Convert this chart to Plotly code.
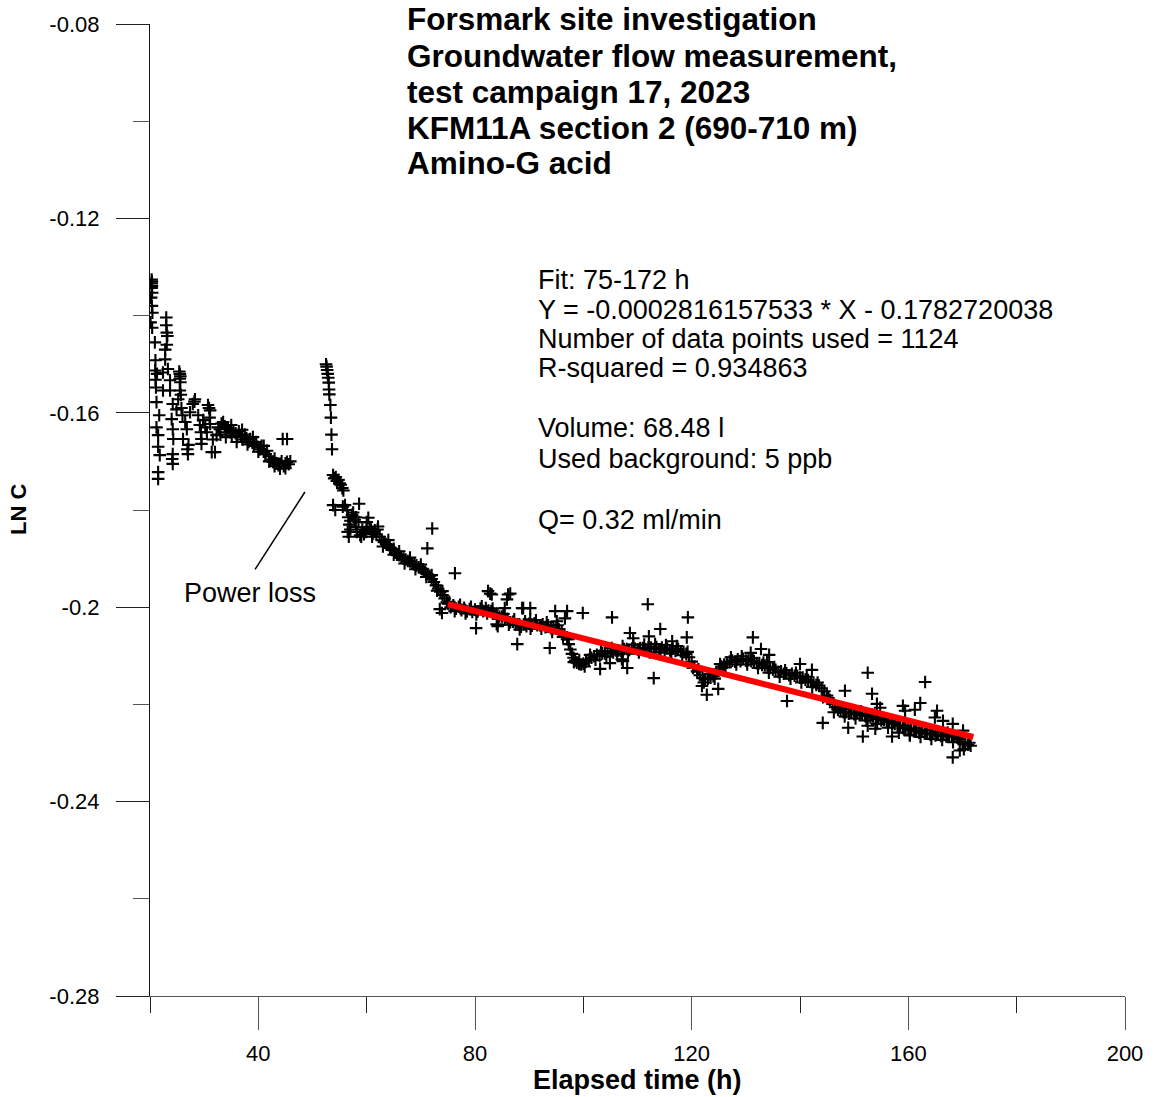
import plotly.graph_objects as go

# ---------------- data ----------------
# early phase, before the power loss (elapsed time h, LN C)
early_t = [20.3, 20.35, 20.3, 20.35, 20.3, 20.4, 20.2, 20.35, 20.45, 20.1, 20.4,
           20.9, 21.0, 20.95, 21.1, 21.0, 21.3, 21.2, 21.7, 21.2, 21.5, 21.5, 21.8, 21.5, 21.5,
           23.0, 23.1, 23.1, 22.8, 22.8, 23.3, 22.4, 23.7, 22.4, 23.7, 24.2, 24.9, 24.0, 24.2,
           24.3, 24.2, 24.2, 24.1, 23.2, 23.0,
           25.4, 25.5, 25.6, 25.5, 25.6, 25.5, 25.2, 25.8, 26.5, 26.8, 27.4, 26.1, 27.1, 27.0,
           26.9, 26.0, 25.7,
           27.9, 28.3, 28.2, 28.9, 29.2, 29.5, 29.5, 29.4, 30.5, 30.7, 30.9, 31.1, 31.1, 31.0,
           31.4, 30.2, 29.8, 31.6, 32.0,
           32.3, 32.6, 32.9, 33.2, 33.5, 33.8, 34.1, 34.4, 34.8, 35.1, 35.4, 35.8, 36.1, 36.4,
           36.8, 37.1, 37.5, 37.8, 38.2, 38.5, 38.9, 39.2, 39.6, 39.9, 40.3, 40.6, 41.0, 41.3,
           41.6, 42.0, 42.3, 42.7, 43.0, 43.4, 43.7, 44.0, 44.3, 44.7, 45.0, 45.3, 45.6, 45.9,
           33.0, 34.0, 35.0, 36.0, 37.0, 38.0, 39.0, 40.0, 41.0, 42.0, 43.0, 44.0, 45.0,
           44.5, 45.3]
early_lnc = [-0.1326, -0.1330, -0.1334, -0.1339, -0.1343, -0.1353, -0.1363, -0.1380, -0.1394, -0.1414, -0.1425,
             -0.1455, -0.1492, -0.1513, -0.1548, -0.1532, -0.1520, -0.1578, -0.1605, -0.1630, -0.1646, -0.1670,
             -0.1687, -0.1722, -0.1736,
             -0.1404, -0.1435, -0.1460, -0.1470, -0.1490, -0.1510, -0.1517, -0.1533, -0.1554, -0.1554, -0.1582,
             -0.1593, -0.1613, -0.1634, -0.1654, -0.1685, -0.1705, -0.1695, -0.1442, -0.1420,
             -0.1515, -0.1520, -0.1525, -0.1530, -0.1537, -0.1554, -0.1572, -0.1590, -0.1619, -0.1634, -0.1599,
             -0.1654, -0.1666, -0.1685, -0.1675, -0.1605, -0.1563,
             -0.1582, -0.1572, -0.1577, -0.1605, -0.1625, -0.1654, -0.1664, -0.1640, -0.1640, -0.1584, -0.1590,
             -0.1595, -0.1623, -0.1610, -0.1681, -0.1630, -0.1615, -0.1655, -0.1681,
             -0.1646, -0.1630, -0.1634, -0.1622, -0.1619, -0.1628, -0.1640, -0.1632, -0.1640, -0.1648, -0.1636,
             -0.1642, -0.1650, -0.1638, -0.1646, -0.1655, -0.1645, -0.1652, -0.1660, -0.1654, -0.1662, -0.1668,
             -0.1660, -0.1670, -0.1675, -0.1668, -0.1680, -0.1685, -0.1678, -0.1690, -0.1696, -0.1701, -0.1694,
             -0.1704, -0.1708, -0.1707, -0.1700, -0.1710, -0.1704, -0.1701, -0.1706, -0.1700,
             -0.1645, -0.1650, -0.1625, -0.1660, -0.1635, -0.1665, -0.1650, -0.1680, -0.1668, -0.1700, -0.1710,
             -0.1715, -0.1714,
             -0.1654, -0.1654]

# recovery after the power loss
recov_t = [52.5, 52.6, 52.7, 52.8, 52.9, 53.0, 53.05, 53.1, 53.3, 53.4, 53.5, 53.6,
           53.8, 54.0, 54.3, 54.5, 54.8, 55.0, 55.2, 55.5, 55.7, 53.8, 55.6, 54.2,
           56.4, 56.6, 56.8, 57.0, 57.3, 57.5, 57.8, 58.0, 58.2, 58.5, 58.8, 56.5, 56.7,
           58.6, 60.3, 59.2, 59.5, 59.8, 60.0, 60.5, 60.8, 61.2, 61.5, 61.8, 62.1, 62.4,
           62.8, 63.2, 63.6, 64.0, 64.3, 64.7, 65.0, 65.3, 65.6, 66.0, 66.4, 66.8, 67.2,
           67.6, 68.0, 68.4, 68.8, 69.2, 69.6, 70.0, 70.4, 70.8, 71.2, 71.6, 72.0, 72.4,
           72.8, 73.2, 73.6, 74.0, 74.4, 74.8]
recov_lnc = [-0.1500, -0.1505, -0.1512, -0.1520, -0.1528, -0.1538, -0.1552, -0.1562, -0.1584, -0.1610,
             -0.1645, -0.1675,
             -0.1728, -0.1735, -0.1732, -0.1740, -0.1738, -0.1745, -0.1748, -0.1755, -0.1760, -0.1790,
             -0.1793, -0.1800,
             -0.1800, -0.1815, -0.1830, -0.1822, -0.1810, -0.1805, -0.1820, -0.1835, -0.1845, -0.1825,
             -0.1852, -0.1845, -0.1855,
             -0.1787, -0.1816, -0.1840, -0.1850, -0.1845, -0.1838, -0.1835, -0.1840, -0.1848, -0.1842,
             -0.1850, -0.1834, -0.1855,
             -0.1862, -0.1866, -0.1870, -0.1872, -0.1878, -0.1882, -0.1880, -0.1888, -0.1892, -0.1893,
             -0.1897, -0.1900, -0.1902, -0.1905, -0.1906, -0.1910, -0.1912, -0.1914, -0.1918, -0.1920,
             -0.1922, -0.1927, -0.1932, -0.1936, -0.1942, -0.1948, -0.1955, -0.1962, -0.1968, -0.1975,
             -0.1982, -0.1990]

# main trend during the fit window
main_t = [75.0, 75.5, 76.0, 76.5, 77.0, 77.5, 78.0, 78.5, 79.0, 79.5, 80.0, 80.5, 81.0, 81.5,
          82.0, 82.5, 83.0, 83.5, 84.0, 84.5, 85.0, 85.5, 86.0, 86.5, 87.0, 87.5, 88.0, 88.5,
          89.0, 89.5, 90.0, 90.5, 91.0, 91.5, 92.0, 92.5, 93.0, 93.5, 94.0, 94.5, 95.0, 95.5,
          96.0, 96.5, 97.0, 97.3, 97.6, 97.9, 98.2, 98.5, 98.8, 99.2, 99.6, 100.0, 100.5, 101.0,
          101.5, 102.0, 102.5, 103.0, 103.5, 104.0, 104.5, 105.0, 105.5, 106.0, 106.5, 107.0,
          107.5, 108.0, 108.5, 109.0, 109.5, 110.0, 110.5, 111.0, 111.5, 112.0, 112.5, 113.0,
          113.5, 114.0, 114.5, 115.0, 115.5, 116.0, 116.5, 117.0, 117.5, 118.0, 118.5, 119.0,
          119.5, 120.0, 120.5, 121.0, 121.5, 122.0, 122.5, 123.0, 123.5, 124.0, 124.5, 125.0,
          125.5, 126.0, 126.5, 127.0, 127.5, 128.0, 128.5, 129.0, 129.5, 130.0, 130.5, 131.0,
          131.5, 132.0, 132.5, 133.0, 133.5, 134.0, 134.5, 135.0, 135.5, 136.0, 136.5, 137.0,
          137.5, 138.0, 138.5, 139.0, 139.5, 140.0, 140.5, 141.0, 141.5, 142.0, 142.5, 143.0,
          143.5, 144.0, 144.5, 145.0, 145.5, 146.0, 146.5, 147.0, 147.5, 148.0, 148.5, 149.0,
          149.5, 150.0, 150.5, 151.0, 151.5, 152.0, 152.5, 153.0, 153.5, 154.0, 154.5, 155.0,
          155.5, 156.0, 156.5, 157.0, 157.5, 158.0, 158.5, 159.0, 159.5, 160.0, 160.5, 161.0,
          161.5, 162.0, 162.5, 163.0, 163.5, 164.0, 164.5, 165.0, 165.5, 166.0, 166.5, 167.0,
          167.5, 168.0, 168.5, 169.0, 169.5, 170.0, 170.5, 171.0, 171.5]
main_lnc = [-0.1993, -0.2000, -0.1996, -0.2003, -0.1999, -0.2006, -0.2001, -0.2009, -0.2004, -0.2010,
            -0.2005, -0.2009, -0.2003, -0.2008, -0.2002, -0.2007, -0.2008, -0.2013, -0.2013, -0.2019,
            -0.2019, -0.2025, -0.2024, -0.2031, -0.2030, -0.2036, -0.2036, -0.2040, -0.2035, -0.2039,
            -0.2034, -0.2038, -0.2033, -0.2037, -0.2037, -0.2035, -0.2041, -0.2037, -0.2043, -0.2043,
            -0.2044, -0.2046, -0.2051, -0.2056, -0.2066, -0.2076, -0.2087, -0.2096, -0.2104, -0.2110,
            -0.2114, -0.2117, -0.2118, -0.2116, -0.2112, -0.2108, -0.2104, -0.2101, -0.2098, -0.2100,
            -0.2095, -0.2095, -0.2092, -0.2092, -0.2093, -0.2089, -0.2089, -0.2090, -0.2086, -0.2086,
            -0.2088, -0.2085, -0.2085, -0.2087, -0.2084, -0.2084, -0.2087, -0.2083, -0.2083, -0.2086,
            -0.2082, -0.2087, -0.2083, -0.2088, -0.2085, -0.2089, -0.2085, -0.2090, -0.2086, -0.2091,
            -0.2092, -0.2096, -0.2103, -0.2112, -0.2122, -0.2132, -0.2140, -0.2146, -0.2148, -0.2147,
            -0.2145, -0.2142, -0.2136, -0.2128, -0.2122, -0.2118, -0.2114, -0.2112, -0.2110, -0.2112,
            -0.2107, -0.2111, -0.2106, -0.2110, -0.2109, -0.2111, -0.2111, -0.2115, -0.2115, -0.2119,
            -0.2120, -0.2124, -0.2125, -0.2128, -0.2129, -0.2133, -0.2132, -0.2137, -0.2136, -0.2140,
            -0.2137, -0.2141, -0.2141, -0.2145, -0.2145, -0.2149, -0.2150, -0.2154, -0.2155, -0.2160,
            -0.2161, -0.2167, -0.2173, -0.2182, -0.2191, -0.2199, -0.2206, -0.2211, -0.2214, -0.2216,
            -0.2216, -0.2219, -0.2216, -0.2220, -0.2218, -0.2222, -0.2220, -0.2224, -0.2223, -0.2227,
            -0.2225, -0.2230, -0.2228, -0.2233, -0.2232, -0.2236, -0.2235, -0.2240, -0.2240, -0.2244,
            -0.2244, -0.2249, -0.2248, -0.2252, -0.2252, -0.2255, -0.2254, -0.2258, -0.2256, -0.2260,
            -0.2259, -0.2262, -0.2261, -0.2264, -0.2262, -0.2265, -0.2263, -0.2266, -0.2264, -0.2266,
            -0.2265, -0.2268, -0.2272, -0.2277, -0.2281, -0.2283, -0.2285, -0.2286, -0.2288]

# readings at the upper / lower edge of the dense band
edge_t = [56.0, 57.0, 58.0, 59.0, 60.0, 61.0, 62.0, 63.0, 64.0, 65.0, 66.0, 67.0, 68.0, 69.0,
          70.0, 71.0, 72.0, 73.0, 74.0,
          75.25, 76.25, 77.25, 78.25, 79.25, 80.25, 81.25, 82.25, 83.25, 84.25, 85.25, 86.25,
          87.25, 88.25, 89.25, 90.25, 91.25, 92.25, 93.25, 94.25, 95.25, 96.25, 97.25, 98.25,
          99.25, 100.25, 101.25, 102.25, 103.25, 104.25, 105.25, 106.25, 107.25, 108.25, 109.25,
          110.25, 111.25, 112.25, 113.25, 114.25, 115.25, 116.25, 117.25, 118.25, 119.25, 120.25,
          121.25, 122.25, 123.25, 124.25, 125.25, 126.25, 127.25, 128.25, 129.25, 130.25, 131.25,
          132.25, 133.25, 134.25, 135.25, 136.25, 137.25, 138.25, 139.25, 140.25, 141.25, 142.25,
          143.25, 144.25, 145.25, 146.25, 147.25, 148.25, 149.25, 150.25, 151.25, 152.25, 153.25,
          154.25, 155.25, 156.25, 157.25, 158.25, 159.25, 160.25, 161.25, 162.25, 163.25, 164.25,
          165.25, 166.25, 167.25, 168.25, 169.25, 170.25, 171.25]
edge_lnc = [-0.1790, -0.1840, -0.1815, -0.1855, -0.1825, -0.1855, -0.1840, -0.1875, -0.1862, -0.1892,
            -0.1885, -0.1910, -0.1898, -0.1922, -0.1912, -0.1938, -0.1934, -0.1966, -0.1967,
            -0.1989, -0.2008, -0.1995, -0.2013, -0.1999, -0.2015, -0.1998, -0.2013, -0.2003, -0.2024,
            -0.2014, -0.2036, -0.2025, -0.2046, -0.2029, -0.2044, -0.2027, -0.2044, -0.2031, -0.2051,
            -0.2037, -0.2061, -0.2066, -0.2113, -0.2109, -0.2122, -0.2098, -0.2108, -0.2090, -0.2101,
            -0.2084, -0.2097, -0.2080, -0.2095, -0.2077, -0.2093, -0.2077, -0.2093, -0.2076, -0.2093,
            -0.2078, -0.2095, -0.2080, -0.2099, -0.2092, -0.2125, -0.2128, -0.2155, -0.2138, -0.2147,
            -0.2117, -0.2124, -0.2103, -0.2118, -0.2101, -0.2118, -0.2105, -0.2125, -0.2114, -0.2135,
            -0.2123, -0.2143, -0.2130, -0.2147, -0.2135, -0.2155, -0.2143, -0.2164, -0.2155, -0.2185,
            -0.2187, -0.2216, -0.2207, -0.2225, -0.2210, -0.2229, -0.2214, -0.2233, -0.2221, -0.2240,
            -0.2228, -0.2248, -0.2236, -0.2258, -0.2244, -0.2263, -0.2249, -0.2267, -0.2253, -0.2271,
            -0.2256, -0.2273, -0.2258, -0.2278, -0.2271, -0.2292, -0.2279]

# scattered individual readings
scatter_t = [72.1, 71.2, 76.3, 73.5, 73.9, 80.2, 84.0, 82.8, 86.5, 85.5, 88.9, 90.2, 82.4, 83.1,
             86.1, 85.9, 88.7, 84.2, 87.8, 93.8, 94.8, 97.0, 96.6, 99.9, 105.3, 103.1, 104.9, 107.1,
             108.1, 108.6, 109.2, 90.2, 95.1, 111.9, 119.3, 114.2, 112.1, 119.1, 116.4, 107.3,
             113.0, 121.9, 122.8, 124.9, 131.3, 130.9, 132.8, 134.3, 133.9, 140.0, 142.2, 137.6,
             148.3, 144.2, 148.9, 151.6, 152.5, 153.3, 154.2, 154.8, 152.5, 153.9, 157.0, 159.0,
             159.4, 161.2, 162.2, 163.1, 165.3, 164.9, 166.4, 168.2, 170.1, 168.2, 169.5, 160.3]
scatter_lnc = [-0.1838, -0.1879, -0.1930, -0.2004, -0.2012, -0.2043, -0.2035, -0.1972, -0.1972, -0.2002,
               -0.2002, -0.2002, -0.1967, -0.1974, -0.1974, -0.1984, -0.2002, -0.2039, -0.2076, -0.2084,
               -0.2008, -0.2008, -0.2023, -0.2012, -0.2021, -0.2127, -0.2115, -0.2107, -0.2125, -0.2053,
               -0.2064, -0.2025, -0.2029, -0.1994, -0.2021, -0.2045, -0.2060, -0.2062, -0.2070, -0.2111,
               -0.2146, -0.2162, -0.2180, -0.2168, -0.2062, -0.2094, -0.2086, -0.2098, -0.2113, -0.2117,
               -0.2129, -0.2193, -0.2172, -0.2238, -0.2248, -0.2266, -0.2135, -0.2178, -0.2199, -0.2207,
               -0.2244, -0.2250, -0.2266, -0.2203, -0.2213, -0.2211, -0.2197, -0.2154, -0.2213, -0.2227,
               -0.2234, -0.2240, -0.2254, -0.2309, -0.2295, -0.2264]

# regression reported on the chart
fit_slope = -0.0002816157533
fit_intercept = -0.1782720038
fit_range = [75, 172]

x_major = [40, 80, 120, 160, 200]
x_minor = [20, 60, 100, 140, 180]
y_major = [-0.28, -0.24, -0.2, -0.16, -0.12, -0.08]
y_major_text = ["-0.28", "-0.24", "-0.2", "-0.16", "-0.12", "-0.08"]
y_minor = [-0.26, -0.22, -0.18, -0.14, -0.10]

title_lines = ["Forsmark site investigation",
               "Groundwater flow measurement,",
               "test campaign 17, 2023",
               "KFM11A section 2 (690-710 m)",
               "Amino-G acid"]
info_lines = ["Fit: 75-172 h",
              "Y = -0.0002816157533 * X - 0.1782720038",
              "Number of data points used = 1124",
              "R-squared = 0.934863",
              "",
              "Volume: 68.48 l",
              "Used background: 5 ppb",
              "",
              "Q= 0.32 ml/min"]

FONT = "Liberation Sans, Arial, sans-serif"

# ---------------- figure ----------------
marker = dict(symbol="cross-thin", size=9, color="black",
              line=dict(width=2.1, color="black"))

fig = go.Figure()
for tx, ty in [(early_t, early_lnc), (recov_t, recov_lnc), (edge_t, edge_lnc),
               (main_t, main_lnc), (scatter_t, scatter_lnc)]:
    fig.add_trace(go.Scatter(x=tx, y=ty, mode="markers", marker=marker,
                             showlegend=False, hoverinfo="x+y"))

fit_y = [fit_slope * t + fit_intercept for t in fit_range]
fig.add_trace(go.Scatter(x=fit_range, y=fit_y, mode="lines",
                         line=dict(color="#ff0000", width=6), showlegend=False))

annotations = []
title_y = [15, 52, 88, 124, 159]
for txt, py in zip(title_lines, title_y):
    annotations.append(dict(text="<b>%s</b>" % txt, xref="paper", yref="paper",
                            x=(405 - 150) / 975, y=1, xanchor="left", yanchor="middle",
                            yshift=-(py - 20), showarrow=False,
                            font=dict(family=FONT, size=31.5, color="black")))
info_y = [276, 306, 335, 364, 394, 424, 455, 485, 516]
for txt, py in zip(info_lines, info_y):
    if not txt:
        continue
    annotations.append(dict(text=txt, xref="paper", yref="paper",
                            x=(536 - 150) / 975, y=1, xanchor="left", yanchor="middle",
                            yshift=-(py - 20), showarrow=False,
                            font=dict(family=FONT, size=27, color="black")))
annotations.append(dict(text="Power loss", xref="paper", yref="paper",
                        x=(250 - 150) / 975, y=1, xanchor="center", yanchor="middle",
                        yshift=-(589 - 20), showarrow=False,
                        font=dict(family=FONT, size=27, color="black")))
annotations.append(dict(text="<b>Elapsed time (h)</b>", xref="paper", yref="paper",
                        x=(637 - 150) / 975, y=0, xanchor="center", yanchor="middle",
                        yshift=-(1080 - 996), showarrow=False,
                        font=dict(family=FONT, size=27, color="black")))
annotations.append(dict(text="<b>LN C</b>", xref="paper", yref="paper",
                        x=0, y=(996 - 508) / 976, xanchor="center", yanchor="middle",
                        xshift=-(150 - 18), textangle=-90, showarrow=False,
                        font=dict(family=FONT, size=22, color="black")))

# leader line for the "Power loss" note
leader_t = [39.4, 48.6]
leader_lnc = [-0.1922, -0.1763]
shapes = [dict(type="line", xref="x", yref="y", x0=leader_t[0], y0=leader_lnc[0],
               x1=leader_t[1], y1=leader_lnc[1], line=dict(color="black", width=1.5))]

fig.update_layout(
    width=1155, height=1097,
    margin=dict(l=150, r=30, t=20, b=101),
    paper_bgcolor="white", plot_bgcolor="white",
    font=dict(family=FONT, size=22, color="black"),
    annotations=annotations, shapes=shapes,
    showlegend=False,
)
fig.update_xaxes(range=[20, 200], showgrid=False, zeroline=False,
                 showline=True, linecolor="#555555", linewidth=1.2,
                 tickmode="array", tickvals=x_major, ticktext=[str(v) for v in x_major],
                 ticks="outside", ticklen=33, tickcolor="#555555", tickwidth=1.2,
                 ticklabelstandoff=4,
                 tickfont=dict(family=FONT, size=22, color="black"),
                 minor=dict(tickmode="array", tickvals=x_minor, ticks="outside",
                            ticklen=16, tickcolor="#222222", tickwidth=1.2, showgrid=False))
fig.update_yaxes(range=[-0.28, -0.08], showgrid=False, zeroline=False,
                 showline=True, linecolor="#111111", linewidth=1.2,
                 tickmode="array", tickvals=y_major, ticktext=y_major_text,
                 ticks="outside", ticklen=33, tickcolor="#222222", tickwidth=1.2,
                 ticklabelstandoff=12,
                 tickfont=dict(family=FONT, size=22, color="black"),
                 minor=dict(tickmode="array", tickvals=y_minor, ticks="outside",
                            ticklen=16, tickcolor="#555555", tickwidth=1.2, showgrid=False))

fig.write_html("out.html")
